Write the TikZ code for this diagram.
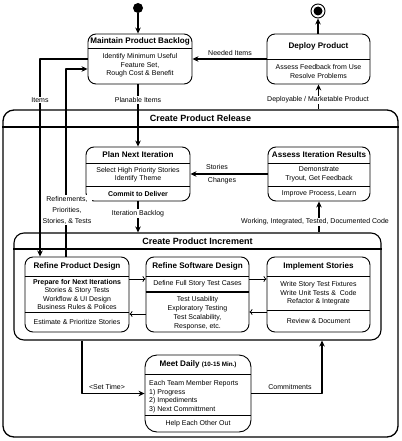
\documentclass[tikz,border=0pt]{standalone}
\usepackage{fontspec}
\setmainfont{Liberation Sans}
\usetikzlibrary{arrows.meta}

\tikzset{
  statebox/.style={draw, rounded corners=8pt, line width=0.9pt, inner sep=0pt},
  boxtitle/.style={font=\fontsize{8.1}{9.5}\selectfont\bfseries, inner sep=0pt},
  bigtitle/.style={font=\fontsize{9}{10}\selectfont\bfseries, inner sep=0pt},
  boxtext/.style={font=\fontsize{7}{8.6}\selectfont, align=center, inner sep=0pt},
  flowline/.style={line width=1.4pt, -{Stealth[length=6pt,width=5.5pt]}},
  innerflow/.style={line width=0.7pt, -{To[length=3pt,width=6pt]}},
  flowlabel/.style={font=\fontsize{7}{8.6}\selectfont, align=center, fill=white, inner sep=1pt},
  divider/.style={line width=0.9pt},
}

\begin{document}
\begin{tikzpicture}[x=1pt, y=-1pt, line join=round]

  %% ════ 起点 / 终点 ════
  \node[circle, fill, minimum size=10pt, inner sep=0pt] (start) at (138,8) {};
  \node[circle, draw, line width=0.9pt, minimum size=14pt, inner sep=0pt] (finish) at (318,11) {};
  \node[circle, fill, minimum size=9pt, inner sep=0pt] (finishdot) at (finish) {};

  %% ════ 顶层状态 ════
  \node[statebox, minimum width=104pt, minimum height=50pt] (backlog) at (140,59) {};
  \draw[divider] (backlog.west |- 0,48) -- (backlog.east |- 0,48);
  \node[boxtitle] (backlogtitle) at (140,41) {Maintain Product Backlog};
  \node[boxtext] (backlogbody) at (140,65.5) {Identify Minimum Useful\\Feature Set,\\Rough Cost \& Benefit};

  \node[statebox, minimum width=103pt, minimum height=50pt] (deploy) at (318.5,59) {};
  \draw[divider] (deploy.west |- 0,59) -- (deploy.east |- 0,59);
  \node[boxtitle] (deploytitle) at (318.5,46) {Deploy Product};
  \node[boxtext] (deploybody) at (318.5,71.5) {Assess Feedback from Use\\Resolve Problems};

  %% ════ Create Product Release（外框）════
  \node[statebox, rounded corners=11pt, line width=1.3pt, minimum width=395pt, minimum height=327pt] (release) at (200.5,273.5) {};
  \draw[line width=1.3pt] (release.west |- 0,127) -- (release.east |- 0,127);
  \node[bigtitle] (releasetitle) at (200.5,118.5) {Create Product Release};

  \node[statebox, minimum width=104pt, minimum height=54pt] (plan) at (138,174) {};
  \draw[divider] (plan.west |- 0,163) -- (plan.east |- 0,163);
  \draw[divider] (plan.west |- 0,186) -- (plan.east |- 0,186);
  \node[boxtitle] (plantitle) at (138,155) {Plan Next Iteration};
  \node[boxtext] (planbody) at (138,174.5) {Select High Priority Stories\\Identify Theme};
  \node[boxtext, font=\fontsize{7}{8.6}\selectfont\bfseries] (plancommit) at (138,194) {Commit to Deliver};

  \node[statebox, minimum width=102pt, minimum height=54pt] (assess) at (319,174) {};
  \draw[divider] (assess.west |- 0,163) -- (assess.east |- 0,163);
  \draw[divider] (assess.west |- 0,186) -- (assess.east |- 0,186);
  \node[boxtitle] (assesstitle) at (319,155) {Assess Iteration Results};
  \node[boxtext] (assessbody) at (319,174.5) {Demonstrate\\Tryout, Get Feedback};
  \node[boxtext] (assessimprove) at (319,194) {Improve Process, Learn};

  %% ════ Create Product Increment（内框）════
  \node[statebox, rounded corners=10pt, line width=1.1pt, minimum width=367pt, minimum height=107pt] (increment) at (197.5,286.5) {};
  \draw[line width=1.1pt] (increment.west |- 0,249) -- (increment.east |- 0,249);
  \node[bigtitle] (incrementtitle) at (197.5,241.5) {Create Product Increment};

  \node[statebox, minimum width=104pt, minimum height=75pt] (refprod) at (77,294.5) {};
  \draw[divider] (refprod.west |- 0,276) -- (refprod.east |- 0,276);
  \draw[divider] (refprod.west |- 0,312) -- (refprod.east |- 0,312);
  \node[boxtitle] (refprodtitle) at (77,266.5) {Refine Product Design};
  \node[boxtext, font=\fontsize{7}{8.3}\selectfont] (refprodbody) at (77,294.5) {\textbf{Prepare for Next Iterations}\\Stories \& Story Tests\\Workflow \& UI Design\\Business Rules \& Polices};
  \node[boxtext] (refprodest) at (77,322) {Estimate \& Prioritize Stories};

  \node[statebox, minimum width=103pt, minimum height=75pt] (refsoft) at (197.5,294.5) {};
  \draw[divider] (refsoft.west |- 0,276) -- (refsoft.east |- 0,276);
  \draw[line width=1.3pt] (refsoft.west |- 0,292) -- (refsoft.east |- 0,292);
  \node[boxtitle] (refsofttitle) at (197.5,266.5) {Refine Software Design};
  \node[boxtext] (refsoftcases) at (197.5,284) {Define Full Story Test Cases};
  \node[boxtext, font=\fontsize{7}{9}\selectfont] (refsoftbody) at (197.5,313.5) {Test Usability\\Exploratory Testing\\Test Scalability,\\Response, etc.};

  \node[statebox, minimum width=103pt, minimum height=75pt] (implement) at (318.5,294.5) {};
  \draw[divider] (implement.west |- 0,276) -- (implement.east |- 0,276);
  \draw[divider] (implement.west |- 0,310) -- (implement.east |- 0,310);
  \node[boxtitle] (implementtitle) at (318.5,266.5) {Implement Stories};
  \node[boxtext] (implementbody) at (318.5,293.5) {Write Story Test Fixtures\\Write Unit Tests \&~ Code\\Refactor \& Integrate};
  \node[boxtext] (implementreview) at (318.5,321) {Review \& Document};

  %% ════ Meet Daily ════
  \node[statebox, rounded corners=12pt, minimum width=106pt, minimum height=77pt] (meet) at (198,393.5) {};
  \draw[divider] (meet.west |- 0,374) -- (meet.east |- 0,374);
  \draw[divider] (meet.west |- 0,415) -- (meet.east |- 0,415);
  \node[boxtitle] (meettitle) at (198,364.5) {Meet Daily {\fontsize{6.3}{7}\selectfont(10-15 Min.)}};
  \node[boxtext, align=left, anchor=west] (meetbody) at (149,396.5) {Each Team Member Reports\\1) Progress\\2) Impediments\\3) Next Committment};
  \node[boxtext] (meethelp) at (198,423.5) {Help Each Other Out};

  %% ════ 连线 ════
  \coordinate (itemsbend) at (40,59);
  \coordinate (refinebend) at (66,69);
  \coordinate (setbend) at (82,393.5);
  \coordinate (commitbend) at (322,393.5);

  \draw[flowline] (start) -- (start |- backlog.north);
  \draw[flowline] (deploy.north -| finish) -- (finish);
  \draw[flowline] (deploy.west) -- (backlog.east);
  \draw[flowline] (backlog.west) -- (itemsbend) -- (itemsbend |- refprod.north);
  \draw[flowline] (refinebend |- refprod.north) -- (refinebend) -- (refinebend -| backlog.west);
  \draw[flowline] (plan.north |- backlog.south) -- (plan.north);
  \draw[flowline] (deploy.south |- release.north) -- (deploy.south);
  \draw[flowline] (assess.west) -- (plan.east);
  \draw[flowline] (plan.south) -- (plan.south |- increment.north);
  \draw[flowline] (assess.south |- increment.north) -- (assess.south);
  \draw[flowline] (setbend |- increment.south) -- (setbend) -- (meet.west);
  \draw[flowline] (meet.east) -- (commitbend) -- (commitbend |- increment.south);

  \draw[innerflow] (refprod.east |- 0,279) -- (refsoft.west |- 0,279);
  \draw[innerflow] (refsoft.east |- 0,279) -- (implement.west |- 0,279);
  \draw[innerflow] (implement.west |- 0,312) -- (refsoft.east |- 0,312);
  \draw[innerflow] (refsoft.west |- 0,314) -- (refprod.east |- 0,314);

  %% ════ 标签 ════
  \node[flowlabel] (neededlbl) at (230,52.5) {Needed Items};
  \node[flowlabel] (itemslbl) at (40,100) {Items};
  \node[flowlabel] (planablelbl) at (138,100) {Planable Items};
  \node[flowlabel] (deployablelbl) at (318,100) {Deployable / Marketable Product};
  \node[flowlabel, font=\fontsize{7}{11}\selectfont] (refinelbl) at (67,210) {Refinements,\\Priorities,\\Stories, \& Tests};
  \node[flowlabel] (storieslbl) at (217,167) {Stories};
  \node[flowlabel] (changeslbl) at (222,181) {Changes};
  \node[flowlabel] (iterationlbl) at (138,213.5) {Iteration Backlog};
  \node[flowlabel] (workinglbl) at (315,222) {Working, Integrated, Tested, Documented Code};
  \node[flowlabel] (settimelbl) at (107,387) {<Set Time>};
  \node[flowlabel] (commitlbl) at (290,387) {Commitments};

  % 钉死画布
  \pgfresetboundingbox
  \path[use as bounding box] (0,0) rectangle (401,441);
\end{tikzpicture}
\end{document}
